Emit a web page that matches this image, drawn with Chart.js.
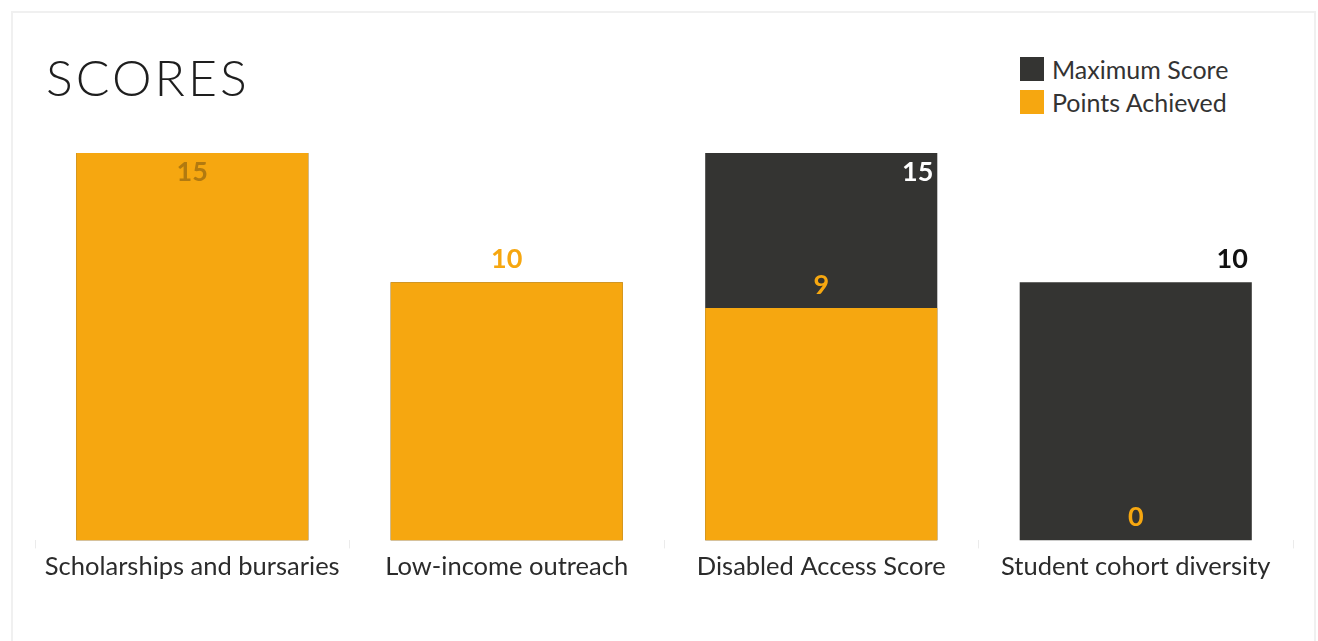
<!DOCTYPE html>
<html>
<head>
<meta charset="utf-8">
<script src="https://cdn.jsdelivr.net/npm/chart.js@4"></script>
<style>
  html, body { margin: 0; padding: 0; background: #fff; }
  .card {
    position: absolute; left: 11px; top: 11px; width: 1305px; height: 640px;
    border: 2px solid #f0f0f0; box-sizing: border-box;
  }
  #wrap { position: absolute; left: 0; top: 0; width: 1318px; height: 641px; }
  .title {
    position: absolute; left: 46px; top: 47px; margin: 0;
    font: 300 50px Lato, sans-serif; color: #1e1e1e; letter-spacing: 3px;
  }
  .legend { position: absolute; left: 1020px; top: 52px; font: 25px Lato, sans-serif; color: #333; }
  .legend div { height: 33px; display: flex; align-items: center; }
  .legend span.box { width: 24px; height: 24px; margin-right: 8px; display: inline-block; }
</style>
</head>
<body>
<div class="card"></div>
<h1 class="title">SCORES</h1>
<div class="legend" id="legend"></div>
<div id="wrap"><canvas id="scoresChart" width="1318" height="641"></canvas></div>
<script>
const categories = ['Scholarships and bursaries', 'Low-income outreach', 'Disabled Access Score', 'Student cohort diversity'];
const maxScore = [15, 10, 15, 10];
const pointsAchieved = [15, 10, 9, 0];

const dark = '#343432';
const orange = '#f6a710';

// labels drawn on the bars
const barLabels = {
  id: 'barLabels',
  afterDatasetsDraw(chart) {
    const ctx = chart.ctx;
    const top = chart.chartArea.top;
    const maxMeta = chart.getDatasetMeta(0);
    const ptsMeta = chart.getDatasetMeta(1);
    ctx.save();
    ctx.font = 'bold 27px Lato, sans-serif';
    ctx.textBaseline = 'middle';
    ptsMeta.data.forEach((bar, i) => {
      ctx.textAlign = 'center';
      if (bar.y - 23 < top) {
        ctx.fillStyle = '#b27a10';
        ctx.fillText(pointsAchieved[i], bar.x, bar.y + 19);
      } else {
        ctx.fillStyle = orange;
        ctx.fillText(pointsAchieved[i], bar.x, bar.y - 23);
      }
    });
    maxMeta.data.forEach((bar, i) => {
      if (pointsAchieved[i] === maxScore[i]) return;
      ctx.textAlign = 'right';
      const right = bar.x + bar.width / 2 - 4;
      if (bar.y - 23 < top) {
        ctx.fillStyle = '#fff';
        ctx.fillText(maxScore[i], right, bar.y + 19);
      } else {
        ctx.fillStyle = '#111';
        ctx.fillText(maxScore[i], right, bar.y - 23);
      }
    });
    ctx.restore();
  }
};

const ctx = document.getElementById('scoresChart').getContext('2d');

const scoresChart = new Chart(ctx, {
  type: 'bar',
  data: {
    labels: categories,
    datasets: [{
      label: 'Maximum Score',
      data: maxScore,
      backgroundColor: dark,
      order: 2
    }, {
      label: 'Points Achieved',
      data: pointsAchieved,
      backgroundColor: orange,
      order: 1
    }]
  },
  options: {
    responsive: false,
    animation: false,
    layout: {
      padding: { left: 35, right: 25, top: 153, bottom: 56 }
    },
    datasets: {
      bar: { grouped: false, categoryPercentage: 1, barPercentage: 0.738 }
    },
    plugins: {
      legend: { display: false },
      tooltip: { enabled: false }
    },
    scales: {
      x: {
        border: { display: false },
        grid: { drawOnChartArea: false, tickLength: 8, color: '#ebebeb' },
        ticks: { color: '#2b2b2b', font: { family: 'Lato', size: 25.5 }, padding: 3 }
      },
      y: {
        display: false,
        min: 0,
        max: 15
      }
    }
  },
  plugins: [barLabels]
});

const legend = document.getElementById('legend');
scoresChart.data.datasets.forEach(ds => {
  const row = document.createElement('div');
  row.innerHTML = '<span class="box" style="background:' + ds.backgroundColor + '"></span>' + ds.label;
  legend.appendChild(row);
});
</script>
</body>
</html>
